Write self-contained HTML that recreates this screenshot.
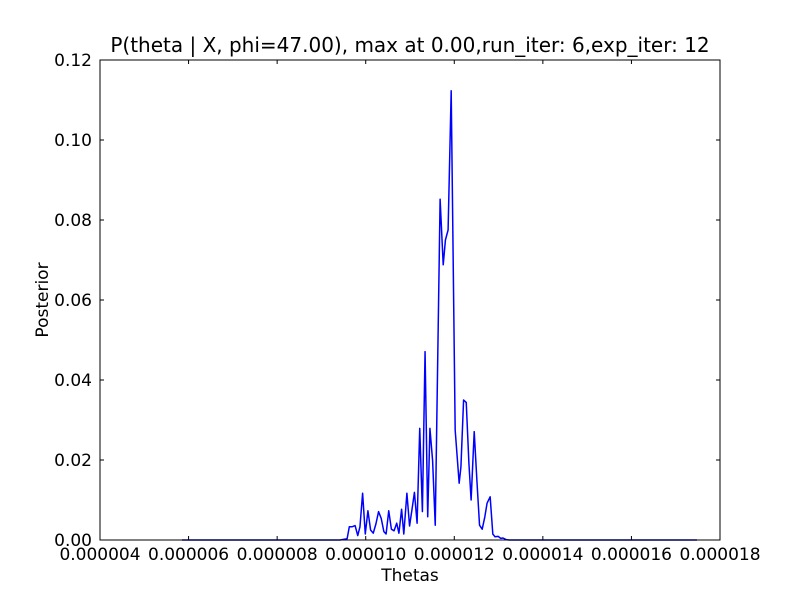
<!DOCTYPE html>
<html><head><meta charset="utf-8"><style>
body{margin:0;background:#fff}
svg text{font-family:"DejaVu Sans","Liberation Sans",sans-serif;fill:#000}
</style></head><body>
<svg id="chart" width="800" height="600">
<rect width="800" height="600" fill="#fff"/>
<g id="plot"></g>
</svg>
<script>
const thetas=[5.85,9.42,9.58,9.63,9.69,9.76,9.82,9.87,9.93,9.99,10.05,10.11,10.17,10.23,10.29,10.35,10.41,10.46,10.52,10.58,10.64,10.70,10.75,10.81,10.86,10.93,10.99,11.05,11.10,11.16,11.22,11.28,11.34,11.40,11.45,11.51,11.57,11.68,11.75,11.80,11.86,11.93,12.02,12.11,12.15,12.21,12.27,12.33,12.38,12.45,12.51,12.57,12.63,12.69,12.74,12.81,12.87,12.92,12.99,13.05,13.10,13.17,13.24,17.48];
const posterior=[0,0,0.0003,0.0033,0.0033,0.0036,0.0011,0.0033,0.0117,0.0015,0.0073,0.0025,0.0017,0.004,0.0071,0.0054,0.0021,0.0015,0.0073,0.0027,0.0023,0.0042,0.0017,0.0077,0.0015,0.0117,0.0035,0.008,0.0119,0.0042,0.0279,0.0071,0.0471,0.0058,0.0279,0.0199,0.0037,0.0852,0.0688,0.075,0.0775,0.1123,0.0275,0.0142,0.0183,0.035,0.0344,0.0192,0.010,0.0271,0.015,0.0037,0.0027,0.0058,0.0092,0.0108,0.0015,0.0008,0.0009,0.0004,0.0005,0.0001,0,0];
const xTicks=[4,6,8,10,12,14,16,18];
const xTickLabels=["0.000004","0.000006","0.000008","0.000010","0.000012","0.000014","0.000016","0.000018"];
const yTicks=[0,0.02,0.04,0.06,0.08,0.10,0.12];
const yTickLabels=["0.00","0.02","0.04","0.06","0.08","0.10","0.12"];
const L=100,R=720,T=60,B=540;
const xs=v=>L+(v-4)/(18-4)*(R-L);
const ys=v=>B-(v/0.12)*(B-T);
const NS="http://www.w3.org/2000/svg";
const g=document.getElementById('plot');
function mk(tag,attrs,parent){const e=document.createElementNS(NS,tag);for(const k in attrs)e.setAttribute(k,attrs[k]);(parent||g).appendChild(e);return e;}
const pts=thetas.map((t,i)=>xs(t).toFixed(2)+','+ys(posterior[i]).toFixed(2)).join(' ');
const line=mk('polyline',{points:pts,fill:'none',stroke:'#0000ff','stroke-width':1.5,'stroke-linejoin':'round'});


const frame=mk('rect',{x:L,y:T,width:R-L,height:B-T,fill:'none',stroke:'#000','stroke-width':1});


xTicks.forEach((v,i)=>{
 const x=xs(v);
 mk('line',{x1:x,x2:x,y1:B,y2:B-4,stroke:'#000'});
 mk('line',{x1:x,x2:x,y1:T,y2:T+4,stroke:'#000'});
 const t=mk('text',{x:x,y:B+20,'text-anchor':'middle','font-size':17});
 t.textContent=xTickLabels[i];
 
 
});
yTicks.forEach((v,i)=>{
 const y=ys(v);
 mk('line',{x1:L,x2:L+4,y1:y,y2:y,stroke:'#000'});
 mk('line',{x1:R,x2:R-4,y1:y,y2:y,stroke:'#000'});
 const t=mk('text',{x:L-8,y:y+6,'text-anchor':'end','font-size':17});
 t.textContent=yTickLabels[i];
 
 
});
const title=mk('text',{x:410,y:52,'text-anchor':'middle','font-size':20});
title.textContent='P(theta | X, phi=47.00), max at 0.00,run_iter: 6,exp_iter: 12';


const xl=mk('text',{x:410,y:581,'text-anchor':'middle','font-size':17});
xl.textContent='Thetas';


const yl=mk('text',{x:48,y:300,'text-anchor':'middle','font-size':17,transform:'rotate(-90 48 300)'});
yl.textContent='Posterior';


</script>
</body></html>
